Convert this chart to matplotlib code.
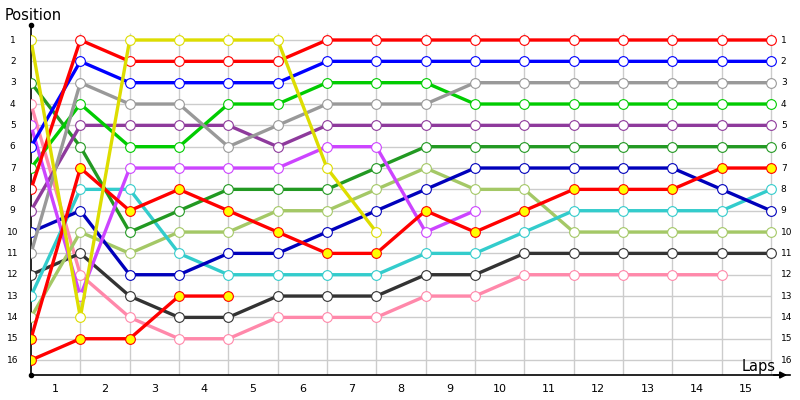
import numpy as np
import matplotlib
matplotlib.use("Agg")
import matplotlib.pyplot as plt

nan = np.nan
# positions at each lap boundary (column 0 = start)
red = [8, 1, 2, 2, 2, 2, 1, 1, 1, 1, 1, 1, 1, 1, 1, 1]
blue = [6, 2, 3, 3, 3, 3, 2, 2, 2, 2, 2, 2, 2, 2, 2, 2]
gray = [11, 3, 4, 4, 6, 5, 4, 4, 4, 3, 3, 3, 3, 3, 3, 3]
green = [7, 4, 6, 6, 4, 4, 3, 3, 3, 4, 4, 4, 4, 4, 4, 4]
purple = [9, 5, 5, 5, 5, 6, 5, 5, 5, 5, 5, 5, 5, 5, 5, 5]
darkgreen = [3, 6, 10, 9, 8, 8, 8, 7, 6, 6, 6, 6, 6, 6, 6, 6]
violet = [5, 13, 7, 7, 7, 7, 6, 6, 10, 9, nan, nan, nan, nan, nan, nan]
pink = [4, 12, 14, 15, 15, 14, 14, 14, 13, 13, 12, 12, 12, 12, 12, nan]
navy = [10, 9, 12, 12, 11, 11, 10, 9, 8, 7, 7, 7, 7, 7, 8, 9]
cyan = [13, 8, 8, 11, 12, 12, 12, 12, 11, 11, 10, 9, 9, 9, 9, 8]
lightgreen = [14, 10, 11, 10, 10, 9, 9, 8, 7, 8, 8, 10, 10, 10, 10, 10]
black = [12, 11, 13, 14, 14, 13, 13, 13, 12, 12, 11, 11, 11, 11, 11, 11]
yellow = [1, 14, 1, 1, 1, 1, 7, 10, nan, nan, nan, nan, nan, nan, nan, nan]
red_y1 = [15, 7, 9, 8, 9, 10, 11, 11, 9, 10, 9, 8, 8, 8, 7, 7]
red_y2 = [16, 15, 15, 13, 13, nan, nan, nan, nan, nan, nan, nan, nan, nan, nan, nan]

series = [
    (pink, "#ff88aa", "white"),
    (black, "#333333", "white"),
    (lightgreen, "#a4c866", "white"),
    (cyan, "#33cccc", "white"),
    (navy, "#0000bb", "white"),
    (darkgreen, "#229922", "white"),
    (purple, "#8e3a9c", "white"),
    (green, "#00cc00", "white"),
    (gray, "#999999", "white"),
    (violet, "#cc44ff", "white"),
    (red_y2, "#ff0000", "#ffff00"),
    (red_y1, "#ff0000", "#ffff00"),
    (blue, "#0000ff", "white"),
    (red, "#ff0000", "white"),
    (yellow, "#dddd00", "white"),
]

laps = list(range(1, 16))
positions = list(range(1, 17))
cols = np.arange(16)

fig = plt.figure(figsize=(8, 4), dpi=100)
# axes: x 31..790 px, y 25..375 px
ax = fig.add_axes([31 / 800, 25 / 400, 759 / 800, 350 / 400])
ax.set_xlim(0, 759 / 49.33)
ax.set_ylim(16.7, 0.297)

ax.hlines(positions, 0, 15, color="#cccccc", lw=1, zorder=0)
ax.vlines(cols[1:], 0.65, 16.7, color="#cccccc", lw=1, zorder=0)

for vals, c, fc in series:
    ax.plot(cols, vals, "-", color=c, lw=2.4, marker="o", ms=7,
            mfc=fc, mec=c, mew=0.8, zorder=3)

for s in ["top", "right"]:
    ax.spines[s].set_visible(False)
ax.spines["left"].set_linewidth(1.2)
ax.spines["bottom"].set_linewidth(1.2)
ax.set_xticks([])
ax.set_yticks([])
ax.plot([0], [0.297], "ko", ms=3, clip_on=False, zorder=5)
ax.plot([0], [16.7], "ko", ms=3, clip_on=False, zorder=5)
ax.annotate("", xy=(759 / 49.33, 16.7), xytext=(15.0, 16.7),
            arrowprops=dict(arrowstyle="-|>", color="black", lw=1.2),
            annotation_clip=False)

for p in positions:
    ax.text(-0.37, p, str(p), ha="center", va="center", fontsize=6.5)
    ax.text(15.2, p, str(p), ha="left", va="center", fontsize=6.5)
for l in laps:
    ax.text(l - 0.5, 17.35, str(l), ha="center", va="center", fontsize=8)

fig.text(5 / 800, 1 - 16 / 400, "Position", ha="left", va="center", fontsize=10.5)
fig.text(742 / 800, 1 - 366 / 400, "Laps", ha="left", va="center", fontsize=10.5)

fig.savefig("out.png", dpi=100)
